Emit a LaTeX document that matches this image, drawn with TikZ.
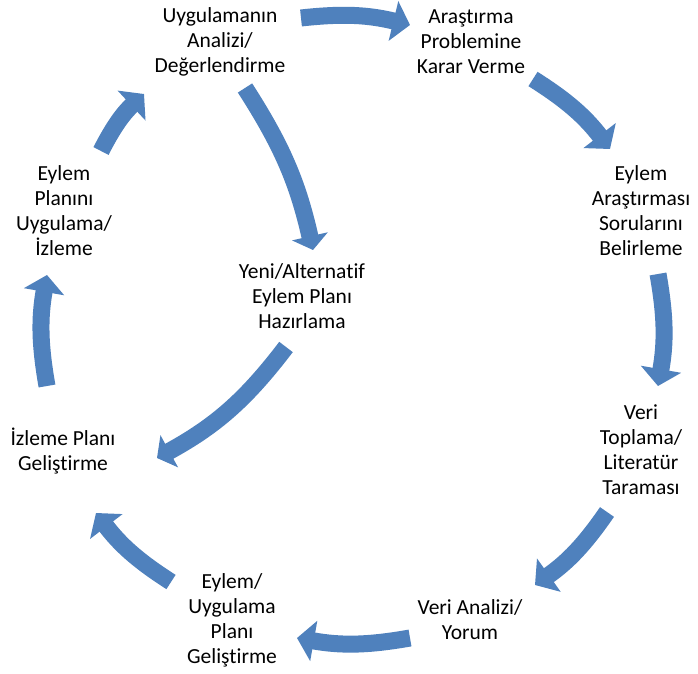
\documentclass[tikz,border=0pt]{standalone}
\usepackage{fontspec}
\setmainfont{Carlito}[Ligatures={NoCommon}]
\usetikzlibrary{arrows.meta}
\definecolor{arrowblue}{HTML}{4F81BD}
\begin{document}
\begin{tikzpicture}[x=1pt,y=1pt,
  lbl/.style={align=center, font=\fontsize{21.5}{25}\selectfont, text=black, inner sep=0pt},
  outarrow/.style={draw=arrowblue, line width=17pt, -{Triangle[length=17pt,width=40pt]}, arrowblue},
  inarrow/.style={draw=arrowblue, line width=17pt, -{Triangle[length=14pt,width=36pt]}, arrowblue}]
\useasboundingbox[fill=white] (0,0) rectangle (698,673);
% labels
\node[lbl] (n1) at (220,631) {Uygulamanın\\Analizi/\\Değerlendirme};
\node[lbl] (n2) at (471,631) {Araştırma\\Problemine\\Karar Verme};
\node[lbl] (n3) at (641,462) {Eylem\\Araştırması\\Sorularını\\Belirleme};
\node[lbl] (n4) at (641,223) {Veri\\Toplama/\\Literatür\\Taraması};
\node[lbl] (n5) at (470,53) {Veri Analizi/\\Yorum};
\node[lbl] (n6) at (232,53) {Eylem/\\Uygulama\\Planı\\Geliştirme};
\node[lbl] (n7) at (63,222) {İzleme Planı\\Geliştirme};
\node[lbl] (n8) at (64,462) {Eylem\\Planını\\Uygulama/\\İzleme};
\node[lbl] (n9) at (302,377) {Yeni/Alternatif\\Eylem Planı\\Hazırlama};
% arrow end points
\coordinate (a1s) at (301,655); \coordinate (a1t) at (410,648);
\coordinate (a2s) at (533,594); \coordinate (a2t) at (610,524);
\coordinate (a3s) at (658,399); \coordinate (a3t) at (658,287);
\coordinate (a4s) at (607,161); \coordinate (a4t) at (535,88);
\coordinate (a5s) at (410,35);  \coordinate (a5t) at (297,35);
\coordinate (a6s) at (171,91);  \coordinate (a6t) at (96,160);
\coordinate (a7s) at (47,287);  \coordinate (a7t) at (47,398);
\coordinate (a8s) at (101,522); \coordinate (a8t) at (144,579);
\coordinate (a9s) at (245,585); \coordinate (a9t) at (313,423);
\coordinate (a10s) at (286,326); \coordinate (a10t) at (157,215);
% arrows
\draw[outarrow] (a1s) to[bend left=10] (a1t);
\draw[outarrow] (a2s) to[bend left=10] (a2t);
\draw[outarrow] (a3s) to[bend left=10] (a3t);
\draw[outarrow] (a4s) to[bend left=10] (a4t);
\draw[outarrow] (a5s) to[bend left=10] (a5t);
\draw[outarrow] (a6s) to[bend left=10] (a6t);
\draw[outarrow] (a7s) to[bend left=10] (a7t);
\draw[outarrow] (a8s) to[bend left=10] (a8t);
\draw[inarrow] (a9s) to[bend left=10] (a9t);
\draw[inarrow] (a10s) to[bend left=12] (a10t);
\end{tikzpicture}
\end{document}
